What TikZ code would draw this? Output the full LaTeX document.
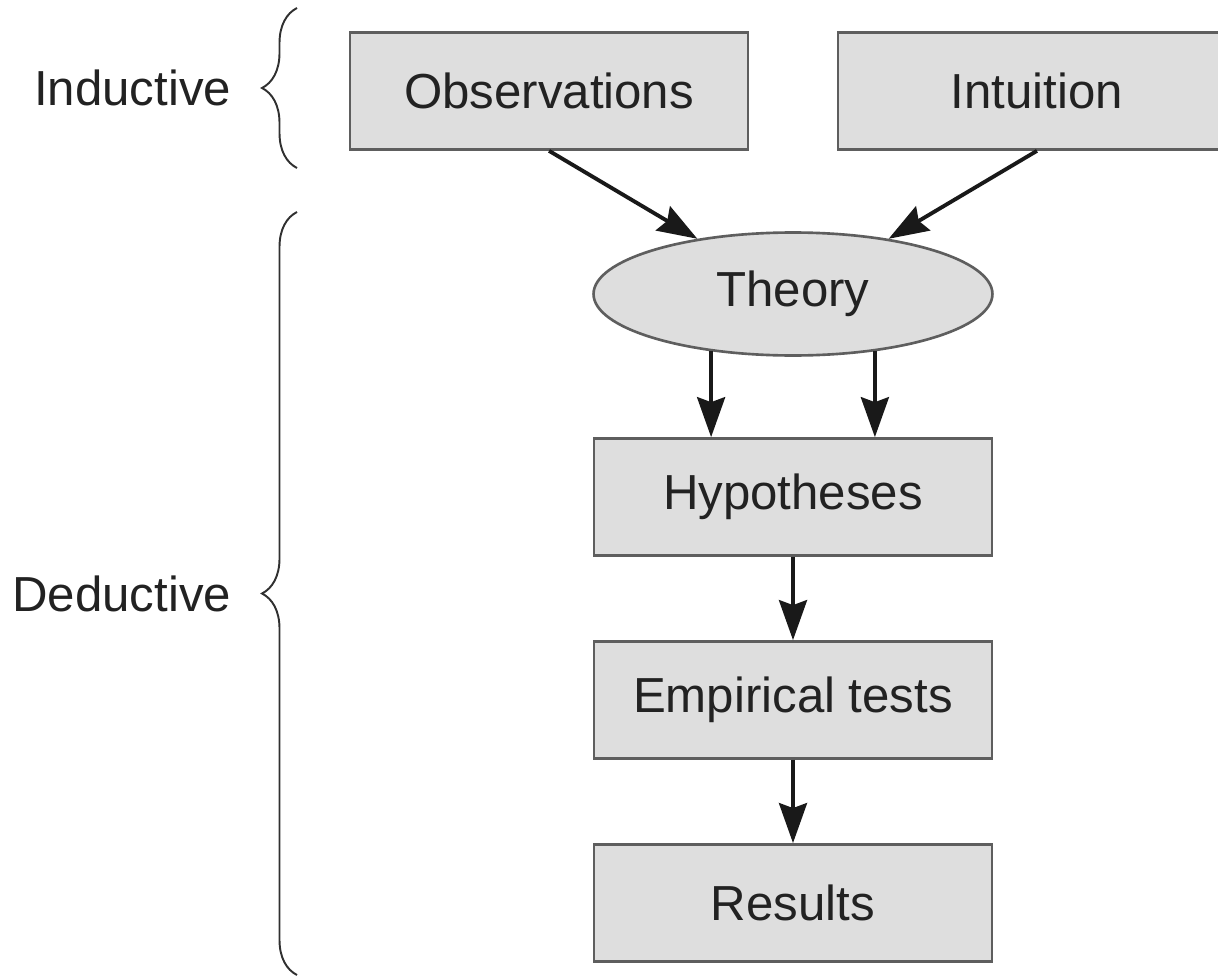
\documentclass[tikz,border=0pt]{standalone}
\usepackage{tikz}
\usetikzlibrary{arrows.meta,positioning,shapes.geometric,decorations.pathreplacing}
\usepackage{fontspec}
\setmainfont{Liberation Sans}
\usepackage{xcolor}
\definecolor{boxfill}{HTML}{DEDEDE}
\definecolor{boxline}{HTML}{5E5E5E}
\definecolor{bracecol}{HTML}{303030}
\definecolor{inkcol}{HTML}{222222}

\begin{document}
\begin{tikzpicture}[x=0.02cm,y=-0.02cm,>={Stealth[length=0.8cm,width=0.56cm,inset=0.1cm]},node distance=4.06cm,on grid,font=\fontsize{28}{34}\selectfont,text=inkcol]
			\useasboundingbox (0,0) rectangle (1218,977);
			\tikzset{stage/.style={draw=boxline,fill=boxfill,line width=1.5pt,minimum width=7.96cm,minimum height=2.34cm,inner sep=0pt}}
			\tikzset{idea/.style={stage,ellipse,minimum width=7.98cm,minimum height=2.46cm}}
			\tikzset{flow/.style={->,line width=2.2pt,black!90}}
			\tikzset{phase/.style={decorate,decoration={brace,amplitude=0.7cm},line width=1.1pt,draw=bracecol}}

			  \node[idea]   (theory) at (793,294)                          {Theory};
			  \node[stage]  (obs)    [above left =4.06cm and 4.88cm of theory]  {Observations};
			  \node[stage]  (intu)   [above right =4.06cm and 4.88cm of theory] {Intuition};
			  \node[stage]  (hyp)    [below =of theory]                    {Hypotheses};
			  \node[stage]  (tests)  [below =of hyp]                       {Empirical tests};
			  \node[stage]  (res)    [below =of tests]                     {Results};

			  \draw[flow] (obs.south)  -- (theory.150);
			  \draw[flow] (intu.south) -- (theory.30);
			  \draw[flow] (theory.215) -- (theory.215 |- hyp.north);
			  \draw[flow] (theory.325) -- (theory.325 |- hyp.north);
			  \draw[flow] (hyp)   -- (tests);
			  \draw[flow] (tests) -- (res);

			  % braces on the left
			  \coordinate (indbot) at (297,168);
			  \coordinate (indtop) at (297,8);
			  \coordinate (dedbot) at (297,975);
			  \coordinate (dedtop) at (297,212);
			  \draw[phase] (indbot) -- (indtop) node[midway,anchor=east,xshift=-1.3cm,inner sep=0pt] (indlab) {Inductive};
			  \draw[phase] (dedbot) -- (dedtop) node[midway,anchor=east,xshift=-1.3cm,inner sep=0pt] (dedlab) {Deductive};

		\end{tikzpicture}
\end{document}
